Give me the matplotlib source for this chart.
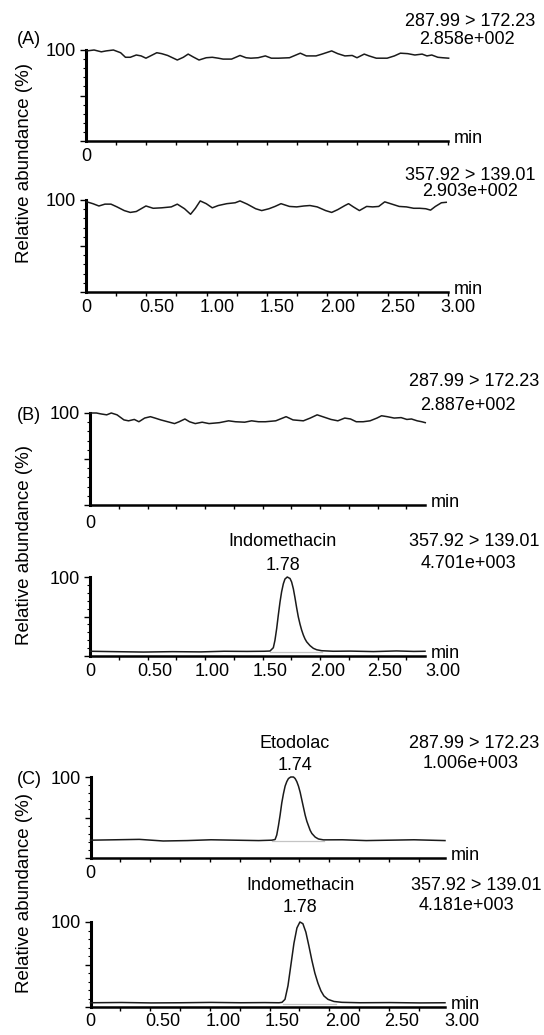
import matplotlib
matplotlib.use("Agg")
import matplotlib.pyplot as plt
from matplotlib.ticker import FixedLocator

plt.rcParams['font.family'] = ['Liberation Sans', 'DejaVu Sans']
plt.rcParams['font.size'] = 13

W, H = 544, 1035

# ---- traces (time in min, relative abundance in %) ----
a1_t = [-0.08, -0.02, 0.04, 0.08, 0.14, 0.20, 0.24, 0.28, 0.33, 0.37, 0.41, 0.47, 0.50, 0.54, 0.59,
        0.63, 0.67, 0.72, 0.76, 0.80, 0.85, 0.91, 0.96, 1.01, 1.05, 1.12, 1.19, 1.24, 1.28, 1.34,
        1.40, 1.45, 1.51, 1.60, 1.69, 1.74, 1.82, 1.87, 1.95, 2.00, 2.06, 2.12, 2.16, 2.22, 2.26,
        2.32, 2.41, 2.47, 2.52, 2.58, 2.64, 2.70, 2.74, 2.78, 2.83, 2.87, 2.92]
a1_y = [99, 100, 98, 99, 100, 97, 92, 92, 94.5, 93.5, 91, 95, 97, 96, 94,
        91.5, 89, 92, 95.5, 92.5, 89, 91.5, 92, 91, 90, 90, 94, 91.5, 91, 91.5,
        93.5, 91, 91, 91.5, 96.5, 93.5, 93.5, 95.5, 99, 96, 93.5, 94, 91.5, 95.5, 93.5,
        91, 91, 93.5, 96.5, 96, 94.5, 95.5, 93.5, 94.5, 92, 91.5, 91]

a2_t = [-0.08, -0.03, 0.02, 0.07, 0.12, 0.17, 0.23, 0.28, 0.33, 0.37, 0.41, 0.47, 0.54, 0.62, 0.67,
        0.73, 0.78, 0.82, 0.86, 0.91, 0.96, 1.01, 1.08, 1.15, 1.19, 1.25, 1.32, 1.37, 1.43, 1.48,
        1.53, 1.60, 1.66, 1.72, 1.77, 1.83, 1.90, 1.95, 2.00, 2.06, 2.09, 2.13, 2.18, 2.24, 2.29,
        2.34, 2.39, 2.45, 2.51, 2.57, 2.63, 2.68, 2.73, 2.77, 2.81, 2.86, 2.90]
a2_y = [98, 96, 93.5, 95.5, 95.5, 92.5, 88.5, 86.5, 87.5, 90.5, 93.5, 91, 91.5, 92.5, 95.5,
        90.5, 84.5, 91, 99, 96, 91.5, 94, 96, 97, 99, 95.5, 90.5, 88.5, 90.5, 93,
        96, 93, 92.5, 93.5, 94, 92.5, 88.5, 86.5, 89.5, 94, 96, 92.5, 88.5, 93, 92.5,
        93, 98, 95.5, 93, 92.5, 91, 91, 90.5, 89, 93, 97, 97.5]

b1_t = [-0.065, -0.01, 0.03, 0.08, 0.12, 0.17, 0.23, 0.27, 0.32, 0.36, 0.41, 0.46, 0.50, 0.55, 0.61,
        0.67, 0.71, 0.76, 0.80, 0.85, 0.91, 0.97, 1.06, 1.14, 1.20, 1.28, 1.34, 1.40, 1.46, 1.55,
        1.64, 1.70, 1.79, 1.85, 1.91, 1.97, 2.03, 2.09, 2.15, 2.20, 2.25, 2.31, 2.37, 2.43, 2.47,
        2.52, 2.58, 2.64, 2.69, 2.73, 2.78, 2.82, 2.85]
b1_y = [100, 100, 99, 98, 100, 98, 92.5, 91.5, 93, 90.5, 94.5, 96, 94.5, 92.5, 90.5,
        88.5, 90.5, 93.5, 90.5, 88.5, 90, 88.5, 89.5, 91.5, 90.5, 90, 91.5, 90.5, 90.5, 91.5,
        96, 92.5, 91.5, 94.5, 98, 95.5, 93, 91.5, 94.5, 93.5, 90.5, 90.5, 91.5, 94.5, 97,
        96, 94.5, 95, 93, 93.5, 91.5, 90.5, 89.5]

b2_t = [-0.065, 0.15, 0.40, 0.65, 0.90, 1.10, 1.30, 1.45, 1.50,
        1.529, 1.543, 1.558, 1.572, 1.587, 1.601, 1.616, 1.630, 1.650, 1.674,
        1.688, 1.703, 1.717, 1.732, 1.746, 1.761, 1.775, 1.790, 1.804, 1.819,
        1.848, 1.877, 1.906, 1.949,
        2.05, 2.20, 2.40, 2.60, 2.75, 2.848]
b2_y = [6.0, 5.5, 5.0, 5.5, 5.2, 6.0, 5.8, 6.0, 6.3,
        10.5, 19.8, 34.7, 51.5, 68.3, 81.3, 91.4, 97.4, 100, 98.1,
        93.7, 85.1, 73.9, 60.8, 49.6, 40.3, 32.9, 26.5, 21.7, 17.9,
        13.1, 9.7, 7.9, 6.7,
        6.0, 6.2, 5.6, 6.4, 5.8, 6.0]

c1_t = [-0.109, 0.10, 0.30, 0.50, 0.70, 0.90, 1.10, 1.30,
        1.409, 1.437, 1.451, 1.465, 1.479, 1.493, 1.507, 1.521, 1.535, 1.549,
        1.568, 1.591, 1.605, 1.619, 1.633, 1.647, 1.661, 1.675, 1.689, 1.703,
        1.717, 1.731, 1.745, 1.773, 1.800, 1.842,
        2.00, 2.20, 2.40, 2.60, 2.86]
c1_y = [22, 22.5, 23, 21, 21.5, 22.5, 22, 21.5,
        22, 22.8, 28.4, 39.7, 52.9, 67.9, 79.3, 88.7, 94.3, 98.1,
        100, 100, 98.1, 94.3, 88.7, 81.2, 71.7, 62.3, 52.9, 45.4,
        39.7, 34.1, 30.3, 25.8, 23.5, 22.4,
        22.5, 21.5, 22, 22.5, 21.5]

c2_t = [-0.109, 0.15, 0.40, 0.65, 0.90, 1.15, 1.35, 1.47,
        1.495, 1.520, 1.545, 1.570, 1.595, 1.620, 1.645, 1.670, 1.695, 1.720,
        1.745, 1.770, 1.796, 1.821, 1.846, 1.880, 1.930, 1.997,
        2.15, 2.40, 2.65, 2.86]
c2_y = [5.0, 5.3, 4.8, 5.0, 5.4, 5.0, 5.2, 5.0,
        5.5, 9, 25, 50, 75, 93, 100, 98, 88, 72,
        55, 40, 28, 19, 13, 9, 6.5, 5.5,
        5.0, 5.2, 4.8, 5.0]

# integration baselines under the peaks
b2_int = ([1.50, 1.95], [5.0, 5.0])
c1_int = ([1.41, 1.85], [21.0, 21.0])
c2_int = ([1.50, 1.95], [4.0, 4.0])

channels = ['287.99 > 172.23', '357.92 > 139.01']
counts = ['2.858e+002', '2.903e+002', '2.887e+002', '4.701e+003', '1.006e+003', '4.181e+003']
tick_vals = [0.5, 1.0, 1.5, 2.0, 2.5, 3.0]
tick_text = ['0.50', '1.00', '1.50', '2.00', '2.50', '3.00']

fig = plt.figure(figsize=(W / 100, H / 100), dpi=100)


def fx(x):
    return x / W


def fy(y):
    return 1 - y / H


def panel(left, top, base, zero, scale, right, t, y, full_scale, integ=None, pad=5):
    t0 = (left - zero) / scale
    t1 = (right - zero) / scale
    tmax = 3.12
    width = (tmax - t0) * scale
    ax = fig.add_axes([fx(left), fy(base), width / W, (base - top) / H])
    ax.plot(t, y, color='#1a1a1a', lw=1.1, clip_on=False, zorder=3)
    if integ is not None:
        ax.plot(integ[0], integ[1], color='#c4c4c4', lw=0.9, zorder=2)
    ax.set_xlim(t0, tmax)
    ax.set_ylim(0, 100)
    for s in ['top', 'right']:
        ax.spines[s].set_visible(False)
    ax.spines['left'].set_linewidth(2.2)
    ax.spines['bottom'].set_linewidth(1.8)
    ax.spines['bottom'].set_bounds(t0, t1)
    ax.spines['left'].set_bounds(0, 100)
    if full_scale:
        ax.set_xticks([t0] + tick_vals)
        ax.set_xticklabels(['0'] + tick_text)
    else:
        ax.set_xticks([t0])
        ax.set_xticklabels(['0'])
    minor = [t0 + 0.25 * k for k in range(13) if t0 + 0.25 * k <= t1 + 0.01]
    ax.xaxis.set_minor_locator(FixedLocator(minor))
    ax.tick_params(axis='x', which='major', length=0, pad=pad, labelsize=13)
    ax.tick_params(axis='x', which='minor', length=3, width=1.0, direction='out')
    ax.set_yticks([0, 50, 100])
    ax.set_yticklabels(['', '', '100'])
    ax.yaxis.set_minor_locator(FixedLocator([10, 20, 30, 40, 60, 70, 80, 90]))
    ax.tick_params(axis='y', which='major', length=4, width=1.0, pad=3, labelsize=13)
    ax.tick_params(axis='y', which='minor', length=2, width=0.8)
    ax.annotate('min', xy=(t1, 0), xytext=(4, 2), textcoords='offset points',
                ha='left', va='center', fontsize=13, annotation_clip=False)
    return ax


# (A)
panel(86, 50, 141, 96.5, 120.6, 448, a1_t, a1_y, False)
panel(86, 200, 292, 96.5, 120.6, 448, a2_t, a2_y, True)
# (B)
panel(90, 413, 505, 97.5, 115.0, 425, b1_t, b1_y, False, pad=7)
panel(90, 577, 656, 97.5, 115.0, 425, b2_t, b2_y, True, b2_int)
# (C)
panel(90.5, 777, 858, 103.5, 119.4, 445, c1_t, c1_y, False, c1_int)
panel(90.5, 922, 1007, 103.5, 119.4, 445, c2_t, c2_y, True, c2_int, pad=4)

# channel / intensity annotations
labels_right = [
    (channels[0], 470, 21), (counts[0], 467, 40),
    (channels[1], 470, 176), (counts[1], 470, 192),
    (channels[0], 474, 381), (counts[2], 468, 406),
    (channels[1], 474, 542), (counts[3], 468, 563),
    (channels[0], 474, 744), (counts[4], 471, 763),
    (channels[1], 476, 885), (counts[5], 466, 906),
]
for txt, x, y in labels_right:
    fig.text(fx(x), fy(y), txt, ha='center', va='center', fontsize=13)

# peak labels
peak_labels = [('Indomethacin', 282, 542), ('1.78', 283, 565),
               ('Etodolac', 295, 744), ('1.74', 295, 765),
               ('Indomethacin', 301, 885), ('1.78', 300, 908)]
for txt, x, y in peak_labels:
    fig.text(fx(x), fy(y), txt, ha='center', va='center', fontsize=13)

# panel letters and y labels
for txt, y in [('(A)', 39), ('(B)', 415), ('(C)', 779)]:
    fig.text(fx(29), fy(y), txt, ha='center', va='center', fontsize=13)
for y in [163, 545, 893]:
    fig.text(fx(25), fy(y), 'Relative abundance (%)', rotation=90,
             ha='center', va='center', fontsize=13.5)

fig.savefig('out.png', dpi=100)
